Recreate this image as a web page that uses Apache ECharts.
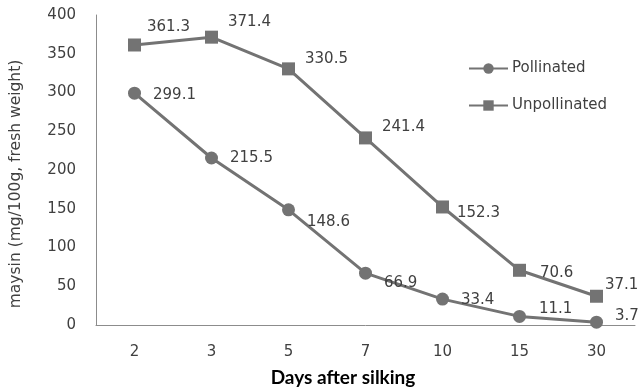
<!DOCTYPE html>
<html>
<head>
<meta charset="utf-8">
<script src="https://cdn.jsdelivr.net/npm/echarts@6/dist/echarts.min.js"></script>
<style>
html,body{margin:0;padding:0;background:#fff;}
#chart{width:639px;height:390px;}
</style>
</head>
<body>
<div id="chart"></div>
<script>
// ---- data ----
const categories = ['2', '3', '5', '7', '10', '15', '30'];
const pollinated = [299.1, 215.5, 148.6, 66.9, 33.4, 11.1, 3.7];
const unpollinated = [361.3, 371.4, 330.5, 241.4, 152.3, 70.6, 37.1];
const seriesNames = ['Pollinated', 'Unpollinated'];
const yTicks = { min: 0, max: 400, interval: 50 };
const xTitle = 'Days after silking';
const yTitle = 'maysin (mg/100g, fresh weight)';

// ---- label layout (pixel offsets of the data labels, not data) ----
const pollLabelOffset = [[12, 2], [12, 0], [12, 12], [12, 10], [12, 1], [13, -7], [12, -6]];
const unpLabelOffset = [[6, -18], [10, -15], [10, -10], [10, -11], [8, 6], [14, 3], [2, -11]];

const gray = '#737373';
const textColor = '#404040';
const font = 'DejaVu Sans';

function withLabels(values, offsets) {
  return values.map((v, i) => ({ value: v, label: { offset: offsets[i] } }));
}

const chart = echarts.init(document.getElementById('chart'), null, { renderer: 'canvas' });
chart.setOption({
  animation: false,
  backgroundColor: '#ffffff',
  textStyle: { fontFamily: font },
  grid: { left: 96, right: 4, top: 15, bottom: 65, containLabel: false },
  legend: {
    orient: 'vertical',
    left: 463,
    top: 56,
    itemWidth: 39,
    itemHeight: 13,
    itemGap: 22,
    data: seriesNames,
    textStyle: { fontFamily: font, fontSize: 15, color: textColor, padding: [0, 0, 0, -1] }
  },
  xAxis: {
    type: 'category',
    data: categories,
    boundaryGap: true,
    axisLine: { show: true, lineStyle: { color: '#8c8c8c', width: 1 } },
    axisTick: { show: false },
    axisLabel: { fontFamily: font, fontSize: 15, color: textColor, margin: 20 },
    splitLine: { show: false }
  },
  yAxis: {
    type: 'value',
    min: yTicks.min,
    max: yTicks.max,
    interval: yTicks.interval,
    axisLine: { show: true, lineStyle: { color: '#8c8c8c', width: 1 } },
    axisTick: { show: false },
    axisLabel: { fontFamily: font, fontSize: 15, color: textColor, margin: 20 },
    splitLine: { show: false }
  },
  graphic: [
    {
      type: 'text',
      x: 343,
      y: 378,
      style: {
        text: xTitle,
        fill: '#000000',
        font: 'bold 19px Lato',
        textAlign: 'center',
        textVerticalAlign: 'middle'
      }
    },
    {
      type: 'text',
      x: 15.5,
      y: 184,
      rotation: Math.PI / 2,
      style: {
        text: yTitle,
        fill: textColor,
        font: '15.5px "DejaVu Sans"',
        textAlign: 'center',
        textVerticalAlign: 'middle'
      }
    }
  ],
  series: [
    {
      name: seriesNames[0],
      type: 'line',
      data: withLabels(pollinated, pollLabelOffset),
      symbol: 'circle',
      symbolSize: 13,
      lineStyle: { color: gray, width: 3 },
      itemStyle: { color: gray },
      label: {
        show: true,
        position: 'right',
        distance: 0,
        fontFamily: font,
        fontSize: 15,
        color: textColor,
        formatter: p => p.value.toFixed(1)
      }
    },
    {
      name: seriesNames[1],
      type: 'line',
      data: withLabels(unpollinated, unpLabelOffset),
      symbol: 'rect',
      symbolSize: 13,
      lineStyle: { color: gray, width: 3 },
      itemStyle: { color: gray },
      label: {
        show: true,
        position: 'right',
        distance: 0,
        fontFamily: font,
        fontSize: 15,
        color: textColor,
        formatter: p => p.value.toFixed(1)
      }
    }
  ]
});
</script>
</body>
</html>
